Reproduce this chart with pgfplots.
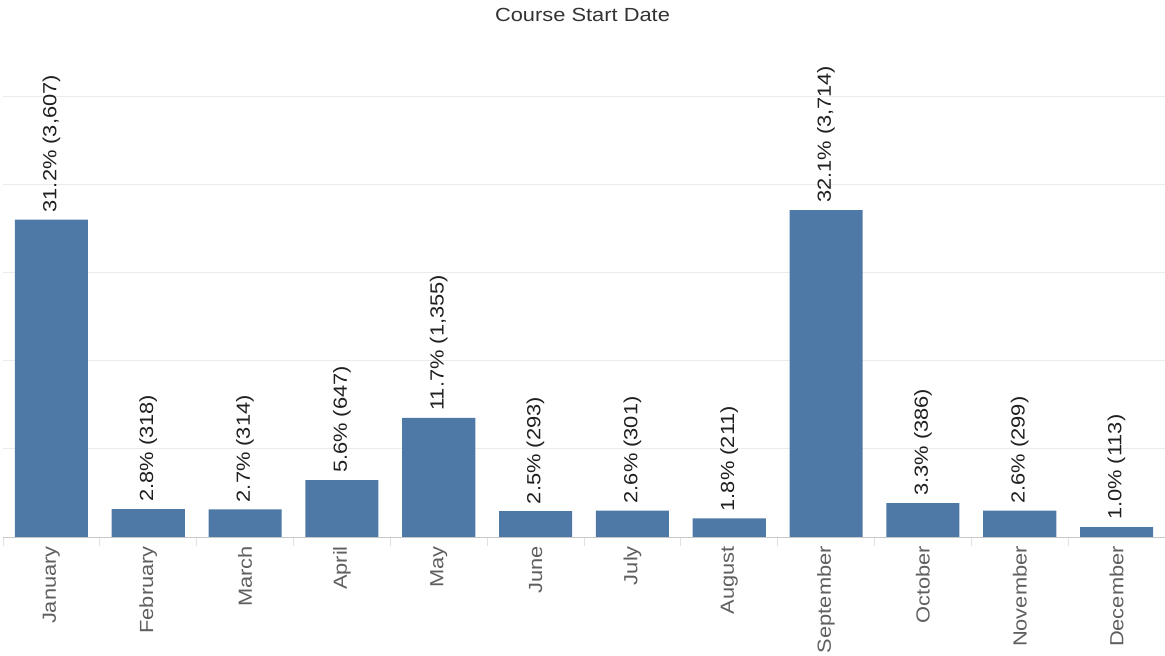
\documentclass[border=0pt]{standalone}
\usepackage{pgfplots}
\pgfplotsset{compat=1.18}
\usepackage{pgfplotstable}
\usepackage{fontspec}
\setmainfont{Liberation Sans}[FakeStretch=1.15]

\definecolor{barblue}{HTML}{4E79A7}
\definecolor{ticktext}{HTML}{5F5F5F}
\definecolor{titletext}{HTML}{333333}
\definecolor{gridgray}{HTML}{EBEBEB}

% enrolments by course start month: share of all starts and count
\pgfplotstableread{
idx count label
0  3607 {31.2\% (3,607)}
1  318  {2.8\% (318)}
2  314  {2.7\% (314)}
3  647  {5.6\% (647)}
4  1355 {11.7\% (1,355)}
5  293  {2.5\% (293)}
6  301  {2.6\% (301)}
7  211  {1.8\% (211)}
8  3714 {32.1\% (3,714)}
9  386  {3.3\% (386)}
10 299  {2.6\% (299)}
11 113  {1.0\% (113)}
}\monthdata

\begin{document}
\begin{tikzpicture}[x=1pt,y=1pt]
\useasboundingbox (0,0) rectangle (1165,656);
\begin{axis}[
  at={(3pt,119pt)}, anchor=south west,
  scale only axis, width=1162pt, height=507pt,
  xmin=-0.5, xmax=11.5, ymin=0, ymax=5761,
  axis x line=bottom, axis y line=left,
  x axis line style={-, color=black!22, line width=0.8pt},
  y axis line style={draw=none},
  xtick={0,...,11},
  xticklabels={January,February,March,April,May,June,July,August,September,October,November,December},
  minor xtick={-0.5,0.5,...,11.5},
  major tick length=0pt, minor tick length=9pt, tick align=outside,
  minor tick style={color=black!12, line width=0.8pt},
  xticklabel style={yshift=-9pt, rotate=90, anchor=east, inner sep=0pt,
    text=ticktext, font=\fontsize{19}{22}\selectfont},
  ytick={1000,2000,3000,4000,5000}, yticklabels={},
  ymajorgrids, major grid style={color=gridgray, line width=1pt},
  clip=false,
]
\addplot[ybar, bar width=0.755, fill=barblue, draw=none,
  point meta=explicit symbolic,
  nodes near coords,
  every node near coord/.append style={yshift=7pt, rotate=90, anchor=west, inner sep=0pt,
    text=black!88, font=\fontsize{19}{22}\selectfont},
] table[x=idx, y=count, meta=label] {\monthdata};
\end{axis}
\node[text=titletext, font=\fontsize{19}{22}\selectfont] at (582.5,641) {Course Start Date};
\end{tikzpicture}
\end{document}
